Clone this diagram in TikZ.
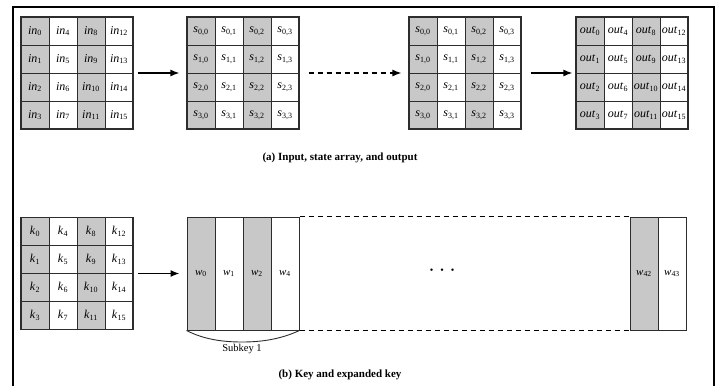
\documentclass[tikz,border=0pt]{standalone}
\usepackage{fontspec}
\setmainfont{Liberation Serif}
\usetikzlibrary{arrows.meta}
\definecolor{cellgray}{RGB}{200,200,200}
\definecolor{linegray}{RGB}{45,45,45}
\begin{document}
\begin{tikzpicture}[x=1pt,y=-1pt,
  cell/.style={draw=linegray, line width=1pt, minimum width=28pt, minimum height=28pt, inner sep=0pt, font=\fontsize{12}{14}\selectfont},
  gcell/.style={cell, fill=cellgray},
  wcell/.style={cell, minimum height=113pt, font=\fontsize{11}{13}\selectfont},
  gwcell/.style={wcell, fill=cellgray},
  gridbox/.style={draw=linegray, line width=1.2pt, minimum width=112pt, minimum height=112pt, inner sep=0pt},
  arr/.style={line width=1.3pt, -{Latex[length=9pt,width=7pt]}},
  dashline/.style={line width=1pt, dash pattern=on 5pt off 4pt},
  caption/.style={font=\bfseries\fontsize{11}{13}\selectfont}
]
\useasboundingbox (0,0) rectangle (721,386);
% frame
\draw[line width=2.2pt] (13,386) -- (13,7) -- (714,7) -- (714,386);

% input grid
\foreach \c/\st in {0/gcell,1/cell,2/gcell,3/cell}
  \foreach \r in {0,...,3} {
    \pgfmathtruncatemacro\n{\r+4*\c}
    \node[\st] (in-\r-\c) at (35+28*\c, 31+28*\r) {\textit{in}\textsubscript{\n}};
  }
\node[gridbox] (gin) at (77,73) {};

% state grid 1
\foreach \c/\st in {0/gcell,1/cell,2/gcell,3/cell}
  \foreach \r in {0,...,3} {
    \node[\st] (sa-\r-\c) at (201+28*\c, 31+28*\r) {\textit{s}\textsubscript{\r,\c}};
  }
\node[gridbox] (gs1) at (243,73) {};

% state grid 2
\foreach \c/\st in {0/gcell,1/cell,2/gcell,3/cell}
  \foreach \r in {0,...,3} {
    \node[\st] (sb-\r-\c) at (423+28*\c, 31+28*\r) {\textit{s}\textsubscript{\r,\c}};
  }
\node[gridbox] (gs2) at (465,73) {};

% output grid
\foreach \c/\st in {0/gcell,1/cell,2/gcell,3/cell}
  \foreach \r in {0,...,3} {
    \pgfmathtruncatemacro\n{\r+4*\c}
    \node[\st] (out-\r-\c) at (590+28*\c, 31+28*\r) {\textit{out}\textsubscript{\n}};
  }
\node[gridbox] (gout) at (632,73) {};

% arrows (a)
\draw[arr, shorten <=4pt, shorten >=7pt] (gin) -- (gs1);
\draw[arr, dash pattern=on 5pt off 4pt, shorten <=9pt, shorten >=7pt] (gs1) -- (gs2);
\draw[arr, shorten <=9pt, shorten >=3pt] (gs2) -- (gout);

\node[caption] (capa) at (340,158) {(a) Input, state array, and output};

% key grid
\foreach \c/\st in {0/gcell,1/cell,2/gcell,3/cell}
  \foreach \r in {0,...,3} {
    \pgfmathtruncatemacro\n{\r+4*\c}
    \node[\st] (k-\r-\c) at (35+28*\c, 231.5+28*\r) {\textit{k}\textsubscript{\n}};
  }
\node[gridbox] (gk) at (77,273.5) {};

% expanded key
\node[gwcell] (w0) at (201,273.5) {\textit{w}\textsubscript{0}};
\node[wcell]  (w1) at (229,273.5) {\textit{w}\textsubscript{1}};
\node[gwcell] (w2) at (257,273.5) {\textit{w}\textsubscript{2}};
\node[wcell]  (w4) at (285,273.5) {\textit{w}\textsubscript{4}};
\node[gwcell] (w42) at (644,273.5) {\textit{w}\textsubscript{42}};
\node[wcell]  (w43) at (672,273.5) {\textit{w}\textsubscript{43}};

\draw[dashline] (w4.north east) -- (w42.north west);
\draw[dashline] (w4.south east) -- (w42.south west);

\node (dots) at (442,271) {\textbullet\hspace{7pt}\textbullet\hspace{7pt}\textbullet};

\draw[arr, shorten <=4pt, shorten >=7pt] (gk) -- (w0);

% subkey brace
\coordinate (bmid) at (242,342);
\draw[line width=0.9pt, linegray] (w0.south west) .. controls (205,340) and (225,342) .. (bmid) .. controls (259,342) and (279,340) .. (w4.south east);
\node[below, font=\fontsize{10.5}{12}\selectfont, inner sep=2pt] (subkey) at (bmid) {Subkey 1};

\node[caption] (capb) at (340,375) {(b) Key and expanded key};
\end{tikzpicture}
\end{document}
